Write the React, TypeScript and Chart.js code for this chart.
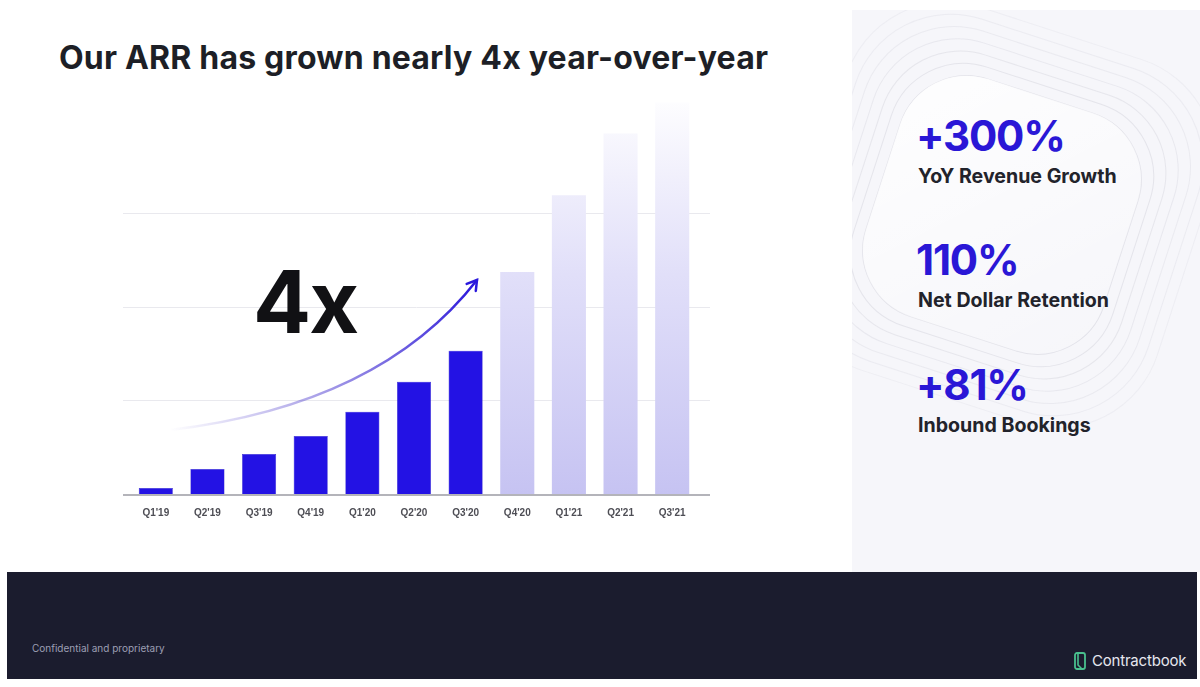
import React, { useEffect, useRef } from 'react';
import { Chart, registerables } from 'chart.js';

Chart.register(...registerables);

// ---- data ----
const quarters = ["Q1'19", "Q2'19", "Q3'19", "Q4'19", "Q1'20", "Q2'20", "Q3'20", "Q4'20", "Q1'21", "Q2'21", "Q3'21"];
const actualArr = [6.4, 26.7, 42.8, 62, 87.7, 119.8, 152.9, null, null, null, null];
const projectedArr = [null, null, null, null, null, null, null, 237, 319, 385, 418];
const gridValues = [100, 200, 300];
const yMax = 425;

const statValues = ['+300%', '110%', '+81%'];
const statLabels = ['YoY Revenue Growth', 'Net Dollar Retention', 'Inbound Bookings'];

const titleText = 'Our ARR has grown nearly 4x year-over-year';
const bigText = '4x';

const gridPlugin = {
  id: 'customGrid',
  beforeDatasetsDraw(chart: any) {
    const { ctx, chartArea, scales } = chart;
    const y = scales.y;
    ctx.save();
    ctx.lineWidth = 1;
    ctx.strokeStyle = '#e9e9ee';
    for (const v of gridValues) {
      const py = Math.round(y.getPixelForValue(v)) + 0.5;
      ctx.beginPath();
      ctx.moveTo(chartArea.left - 7, py);
      ctx.lineTo(chartArea.right + 12, py);
      ctx.stroke();
    }
    ctx.restore();
  },
  afterDatasetsDraw(chart: any) {
    const { ctx, chartArea, scales } = chart;
    const y0 = scales.y.getPixelForValue(0);
    ctx.save();
    ctx.lineWidth = 2;
    ctx.strokeStyle = '#b4b4ba';
    ctx.beginPath();
    ctx.moveTo(chartArea.left - 7, y0 + 1);
    ctx.lineTo(chartArea.right + 12, y0 + 1);
    ctx.stroke();

    // growth arrow (decorative)
    const p0 = { x: 70, y: 350 };
    const p1 = { x: 280, y: 325 };
    const p2 = { x: 377, y: 200 };
    const g = ctx.createLinearGradient(p0.x, p0.y, p2.x, p2.y);
    g.addColorStop(0, 'rgba(60,40,200,0)');
    g.addColorStop(0.35, 'rgba(60,40,200,0.35)');
    g.addColorStop(1, 'rgba(40,20,220,1)');
    ctx.strokeStyle = g;
    ctx.lineWidth = 2.5;
    ctx.lineCap = 'round';
    ctx.beginPath();
    ctx.moveTo(p0.x, p0.y);
    ctx.quadraticCurveTo(p1.x, p1.y, p2.x, p2.y);
    ctx.stroke();
    const ang = Math.atan2(p2.y - p1.y, p2.x - p1.x);
    const len = 11;
    ctx.strokeStyle = '#2a18dc';
    ctx.beginPath();
    ctx.moveTo(p2.x - len * Math.cos(ang - 0.55), p2.y - len * Math.sin(ang - 0.55));
    ctx.lineTo(p2.x, p2.y);
    ctx.lineTo(p2.x - len * Math.cos(ang + 0.55), p2.y - len * Math.sin(ang + 0.55));
    ctx.stroke();
    ctx.restore();
  },
};

function BarChart() {
  const ref = useRef<HTMLCanvasElement | null>(null);
  useEffect(() => {
    if (!ref.current) return;
    const chart = new Chart(ref.current, {
      type: 'bar',
      data: {
        labels: quarters,
        datasets: [
          {
            label: 'ARR',
            data: actualArr as any,
            backgroundColor: '#2312e4',
            borderColor: '#1a0cc0',
            borderWidth: 0.5,
            grouped: false,
            barPercentage: 0.66,
            categoryPercentage: 1,
          },
          {
            label: 'Projected',
            data: projectedArr as any,
            backgroundColor: (c: any) => {
              const { chart: ch } = c;
              const area = ch.chartArea;
              if (!area) return '#d4d2f6';
              const gr = ch.ctx.createLinearGradient(0, area.bottom, 0, area.top);
              gr.addColorStop(0, '#c6c3f2');
              gr.addColorStop(0.55, '#e1dff9');
              gr.addColorStop(0.8, '#f1f0fc');
              gr.addColorStop(1, '#fefeff');
              return gr;
            },
            borderWidth: 0,
            grouped: false,
            barPercentage: 0.66,
            categoryPercentage: 1,
          },
        ],
      },
      options: {
        animation: false,
        responsive: false,
        maintainAspectRatio: false,
        layout: { padding: { left: 30, right: 42, top: 16, bottom: 0 } },
        plugins: { legend: { display: false }, tooltip: { enabled: false } },
        scales: {
          x: {
            grid: { display: false },
            border: { display: false },
            ticks: {
              color: '#4e4e55',
              padding: 5,
              font: { family: 'Liberation Sans, Arial, sans-serif', size: 10, weight: 'bold' },
              maxRotation: 0,
              autoSkip: false,
            },
            afterFit: (s: any) => {
              s.height = 56;
            },
          },
          y: {
            display: false,
            min: 0,
            max: yMax,
          },
        },
      },
      plugins: [gridPlugin],
    } as any);
    return () => chart.destroy();
  }, []);
  return <canvas ref={ref} width={640} height={470} style={{ position: 'absolute', left: 100, top: 80, width: 640, height: 470 }} />;
}

function Contours() {
  const rects = [0, 1, 2, 3, 4, 5, 6];
  return (
    <svg width={348} height={562} style={{ position: 'absolute', left: 0, top: 0 }}>
      <defs>
        <linearGradient id="shade" x1="0" y1="0" x2="1" y2="1">
          <stop offset="0" stopColor="#ffffff" stopOpacity="0.9" />
          <stop offset="1" stopColor="#ffffff" stopOpacity="0" />
        </linearGradient>
      </defs>
      <g transform="translate(150 205) rotate(18)">
        {rects.map((i) => {
          const s = 250 + i * 22;
          return (
            <rect
              key={i}
              x={-s / 2}
              y={-s / 2}
              width={s}
              height={s}
              rx={70 + i * 6}
              fill="none"
              stroke="#e2e2e9"
              strokeWidth={1}
              opacity={1 - i * 0.1}
            />
          );
        })}
        <rect x={-125} y={-125} width={250} height={250} rx={70} fill="url(#shade)" />
      </g>
    </svg>
  );
}

export default function App() {
  const statTops = [112, 236, 361];
  return (
    <div style={{ position: 'fixed', left: 0, top: 0, width: 1200, height: 687, background: '#ffffff', overflow: 'hidden', fontFamily: 'Inter, Liberation Sans, Arial, sans-serif' }}>
      <div style={{ position: 'absolute', left: 852, top: 10, width: 348, height: 562, background: '#f6f6fa', overflow: 'hidden' }}>
        <Contours />
      </div>
      <div style={{ position: 'absolute', left: 59, top: 38, fontSize: 32, lineHeight: '40px', fontWeight: 700, color: '#1d1f26', letterSpacing: 0.2, whiteSpace: 'nowrap' }}>
        {titleText}
      </div>
      <BarChart />
      <div style={{ position: 'absolute', left: 253, top: 254, fontSize: 86, fontWeight: 700, color: '#111114', lineHeight: '96px', letterSpacing: -2 }}>
        {bigText}
      </div>
      {statValues.map((v, i) => (
        <React.Fragment key={v}>
          <div style={{ position: 'absolute', left: 916, top: statTops[i], fontSize: 42, fontWeight: 700, color: '#2a17d6', lineHeight: '48px', letterSpacing: -1.2, whiteSpace: 'nowrap' }}>
            {v}
          </div>
          <div style={{ position: 'absolute', left: 918, top: statTops[i] + 52, fontSize: 19.6, fontWeight: 700, color: '#22232b', lineHeight: '24px', whiteSpace: 'nowrap' }}>
            {statLabels[i]}
          </div>
        </React.Fragment>
      ))}
      <div style={{ position: 'absolute', left: 7, top: 572, width: 1190, height: 107, background: '#1b1c2e' }}>
        <div style={{ position: 'absolute', left: 25, top: 70, fontSize: 10, color: '#9d9fb4', whiteSpace: 'nowrap' }}>Confidential and proprietary</div>
        <div style={{ position: 'absolute', left: 1067, top: 79, display: 'flex', alignItems: 'center', gap: 6 }}>
          <svg width={12} height={18} viewBox="0 0 12 18">
            <rect x={1} y={1} width={10} height={16} rx={2} fill="none" stroke="#49c08e" strokeWidth={1.8} />
            <path d="M4 1 L4 13 L8 17" fill="none" stroke="#49c08e" strokeWidth={1.6} />
          </svg>
          <span style={{ fontSize: 15, color: '#e6e7ee', letterSpacing: -0.2 }}>Contractbook</span>
        </div>
      </div>
    </div>
  );
}
